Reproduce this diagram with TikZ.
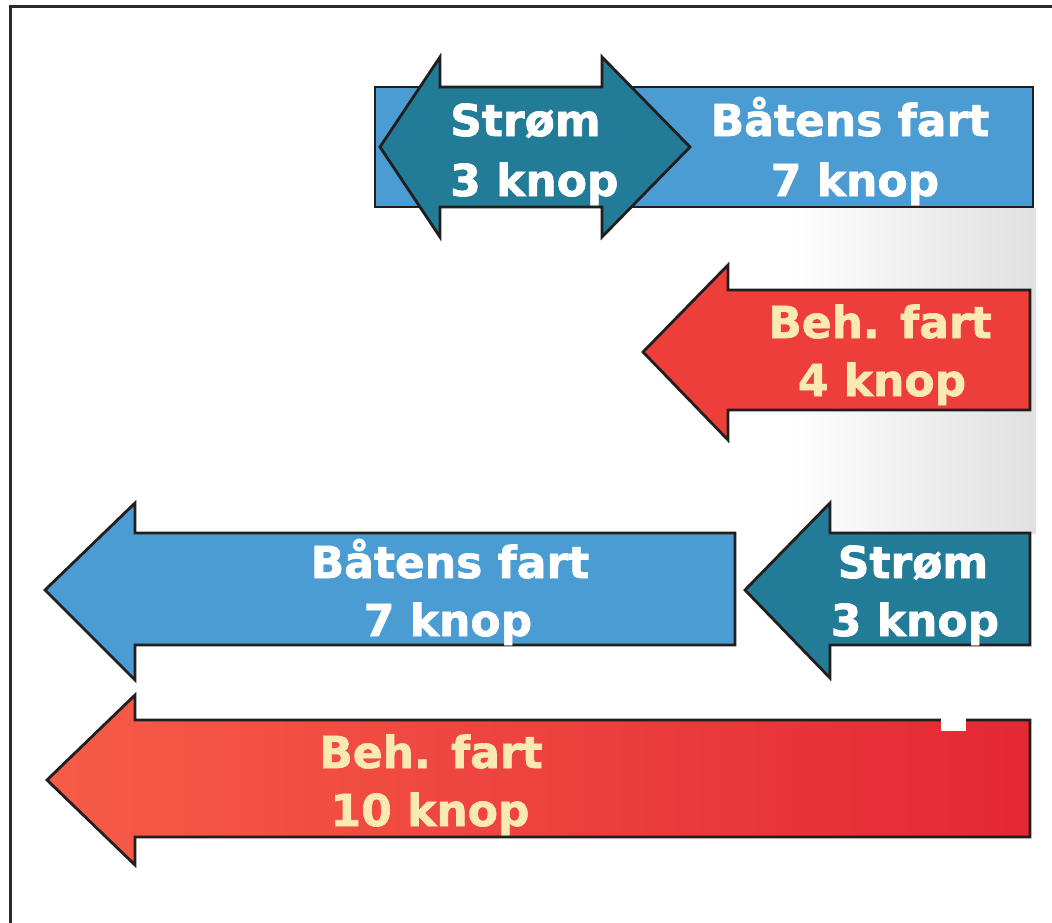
\documentclass[tikz,border=0pt]{standalone}
\usepackage{fontspec}
\setmainfont{DejaVu Sans}[BoldFeatures={FakeBold=1.5}]
\definecolor{boatblue}{RGB}{76,156,212}
\definecolor{streamteal}{RGB}{34,124,152}
\definecolor{redA}{RGB}{246,92,72}
\definecolor{redB}{RGB}{228,40,52}
\definecolor{redM}{RGB}{238,62,58}
\definecolor{cream}{RGB}{250,234,178}
\definecolor{edge}{RGB}{34,30,30}
\definecolor{framegray}{RGB}{42,42,42}
\begin{document}
\begin{tikzpicture}[x=1pt,y=-1pt,
  arrowshape/.style={draw=edge,line width=2.8pt,line join=miter},
  bluefill/.style={arrowshape,fill=boatblue},
  tealfill/.style={arrowshape,fill=streamteal},
  lbl/.style={anchor=base,inner sep=0pt,font=\fontsize{44}{52}\selectfont\bfseries},
  wlbl/.style={lbl,text=white},
  clbl/.style={lbl,text=cream}]
\useasboundingbox (0,0) rectangle (1052,923);
% frame (top and left only)
\draw[framegray,line width=3pt] (10,923) -- (10,7) -- (1052,7);
% light grey backdrop on the right
\shade[left color=white,right color=black!12] (790,208) rectangle (1036,533);
% Top: boat speed bar with double-headed stream arrow
\draw[bluefill] (375,87) rectangle (1033,207);
\draw[tealfill] (380,147) -- (440,57) -- (440,87) -- (602,87) -- (602,57) -- (690,147)
  -- (602,237) -- (602,207) -- (440,207) -- (440,237) -- cycle;
\node[wlbl,anchor=base west] (s1a) at (450,136) {Strøm};
\node[wlbl,anchor=base west] (s1b) at (450,196) {3 knop};
\node[wlbl] (b1a) at (850,136) {Båtens fart};
\node[wlbl] (b1b) at (855,196) {7 knop};
% Resulting speed 4 knop
\draw[arrowshape,fill=redM] (643,352) -- (728,265) -- (728,290) -- (1030,290) -- (1030,410)
  -- (728,410) -- (728,440) -- cycle;
\node[clbl] (r1a) at (880,338) {Beh. fart};
\node[clbl] (r1b) at (882,396) {4 knop};
% Boat speed arrow (left)
\draw[bluefill] (45,590) -- (135,503) -- (135,533) -- (735,533) -- (735,645)
  -- (135,645) -- (135,680) -- cycle;
\node[wlbl] (b2a) at (450,578) {Båtens fart};
\node[wlbl] (b2b) at (448,636) {7 knop};
% Stream arrow (right)
\draw[tealfill] (745,590) -- (830,503) -- (830,533) -- (1030,533) -- (1030,645)
  -- (830,645) -- (830,678) -- cycle;
\node[wlbl] (s2a) at (913,578) {Strøm};
\node[wlbl] (s2b) at (915,636) {3 knop};
% Resulting speed 10 knop
\shadedraw[arrowshape,left color=redA,right color=redB] (47,780) -- (135,695) -- (135,720)
  -- (1030,720) -- (1030,837) -- (135,837) -- (135,865) -- cycle;
\fill[white] (941,718) rectangle (966,731);
\node[clbl] (r2a) at (431,768) {Beh. fart};
\node[clbl] (r2b) at (430,826) {10 knop};
\end{tikzpicture}
\end{document}
